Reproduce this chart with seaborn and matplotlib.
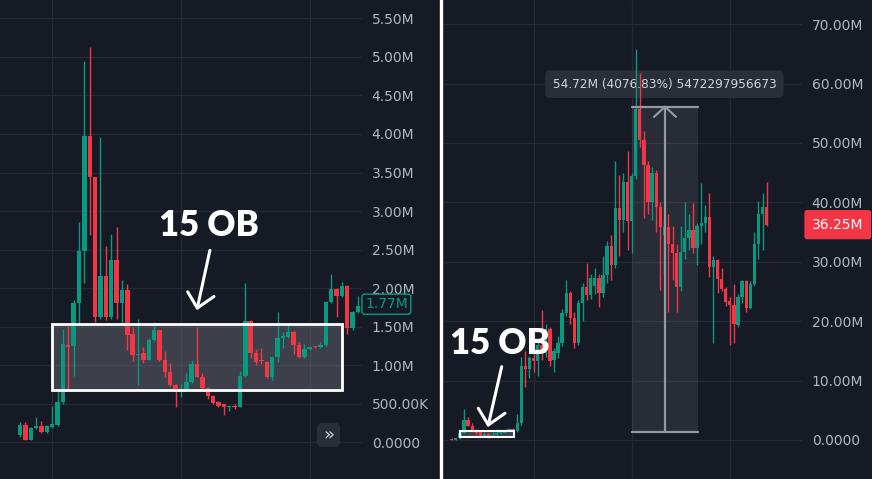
import numpy as np
import pandas as pd
import seaborn as sns
import matplotlib.pyplot as plt
from matplotlib.patches import Rectangle, FancyBboxPatch
from matplotlib.lines import Line2D

# Left panel: zoomed-in candles (values in millions)
left_open = [0.09, 0.22, 0.03, 0.18, 0.21, 0.13, 0.19, 0.22, 0.52, 1.26,
             1.25, 1.80, 2.48, 3.97, 3.44, 1.62, 2.16, 1.62, 2.37, 1.80,
             1.97, 1.40, 1.13, 1.16, 1.07, 1.32, 1.45, 1.06, 0.91, 0.74,
             0.65, 0.69, 0.78, 1.01, 0.85, 0.70, 0.60, 0.52, 0.49, 0.45,
             0.47, 0.46, 0.86, 1.57, 1.16, 1.06, 1.04, 0.84, 1.10, 1.35,
             1.36, 1.43, 1.26, 1.10, 1.21, 1.24, 1.23, 1.26, 1.82, 1.99,
             1.89, 2.03, 1.48, 1.69]
left_close = [0.22, 0.03, 0.18, 0.21, 0.13, 0.21, 0.23, 0.52, 1.27, 1.24,
              1.80, 2.48, 3.97, 3.44, 1.62, 2.16, 1.62, 2.37, 1.80, 1.97,
              1.39, 1.13, 1.14, 1.07, 1.32, 1.45, 1.06, 0.91, 0.74, 0.65,
              0.69, 0.78, 1.01, 0.85, 0.70, 0.60, 0.51, 0.47, 0.45, 0.46,
              0.46, 0.86, 1.57, 1.16, 1.04, 1.05, 0.84, 1.10, 1.35, 1.38,
              1.43, 1.26, 1.10, 1.21, 1.24, 1.23, 1.26, 1.82, 1.99, 1.89,
              2.03, 1.48, 1.69, 1.77]
left_high = [0.26, 0.26, 0.19, 0.32, 0.27, 0.22, 0.47, 0.67, 1.47, 1.55,
             1.84, 2.86, 4.95, 5.13, 3.44, 3.96, 2.54, 2.70, 2.79, 2.11,
             2.05, 1.50, 1.60, 1.24, 1.35, 1.56, 1.46, 1.18, 1.02, 0.75,
             0.75, 0.89, 1.06, 1.50, 0.90, 0.71, 0.61, 0.53, 0.50, 0.47,
             0.49, 0.92, 2.06, 1.58, 1.21, 1.22, 1.05, 1.11, 1.69, 1.43,
             1.53, 1.44, 1.30, 1.27, 1.25, 1.25, 1.30, 1.83, 2.18, 2.00,
             2.08, 2.04, 1.70, 1.89]
left_low = [0.07, 0.02, 0.02, 0.17, 0.12, 0.12, 0.18, 0.21, 0.50, 0.66,
            0.86, 1.55, 2.06, 2.69, 1.56, 1.60, 1.58, 1.60, 1.60, 1.55,
            1.19, 1.05, 0.74, 1.03, 1.06, 1.31, 1.05, 0.85, 0.73, 0.45,
            0.59, 0.68, 0.77, 0.84, 0.69, 0.56, 0.50, 0.46, 0.35, 0.40,
            0.43, 0.45, 0.85, 1.09, 1.00, 1.01, 0.83, 0.80, 1.04, 1.22,
            1.35, 1.14, 1.09, 1.09, 1.20, 1.22, 1.22, 1.25, 1.81, 1.63,
            1.88, 1.40, 1.46, 1.68]
left_ticks = [0, 0.5, 1.0, 1.5, 2.0, 2.5, 3.0, 3.5, 4.0, 4.5, 5.0, 5.5]
left_tick_labels = ["0.0000", "500.00K", "1.00M", "1.50M", "2.00M", "2.50M",
                    "3.00M", "3.50M", "4.00M", "4.50M", "5.00M", "5.50M"]

# Right panel: full history (values in millions)
right_open = [0.20, 0.05, 0.25, 1.20, 3.40, 2.40, 1.40, 1.30, 0.70, 1.00,
              0.60, 0.90, 1.10, 1.20, 1.40, 1.85, 1.50, 2.80, 12.40, 11.90,
              13.80, 13.30, 16.00, 14.60, 18.70, 13.50, 14.60, 16.30, 21.40, 24.70,
              20.50, 16.30, 23.00, 25.80, 24.40, 26.00, 27.30, 24.70, 27.80, 32.70,
              29.50, 39.00, 37.00, 43.50, 36.80, 44.40, 55.70, 50.50, 46.30, 40.10,
              45.00, 39.20, 34.50, 35.90, 33.00, 31.50, 25.80, 31.70, 34.00, 35.40,
              32.40, 36.10, 36.60, 37.50, 29.20, 30.30, 27.10, 25.40, 23.40, 22.80,
              19.40, 24.10, 26.80, 22.20, 26.30, 33.00, 38.00, 39.20]
right_close = [0.05, 0.25, 1.20, 3.40, 2.40, 1.40, 1.10, 0.70, 1.00, 0.60,
               0.90, 1.20, 1.30, 1.50, 1.85, 1.50, 2.80, 12.40, 11.90, 13.80,
               13.30, 16.00, 14.60, 18.70, 13.30, 14.90, 16.30, 21.40, 24.70, 20.50,
               16.30, 23.00, 25.80, 24.40, 27.20, 27.30, 24.70, 27.80, 32.70, 29.50,
               39.00, 37.00, 43.50, 36.80, 44.40, 55.70, 50.50, 46.30, 40.10, 45.00,
               39.20, 35.90, 35.90, 33.00, 31.50, 25.80, 31.70, 34.00, 35.40, 32.40,
               36.10, 36.60, 37.50, 29.20, 30.30, 27.10, 25.40, 23.30, 22.80, 19.60,
               24.10, 26.80, 22.20, 26.30, 33.00, 38.00, 39.20, 36.25]
right_high = [0.30, 0.30, 1.40, 5.20, 3.90, 2.90, 1.80, 1.50, 1.40, 1.10,
              1.30, 1.90, 1.50, 1.80, 2.00, 2.10, 4.40, 14.00, 15.00, 14.20,
              16.50, 16.50, 21.90, 19.50, 19.00, 15.50, 17.50, 22.00, 26.90, 25.00,
              21.50, 23.50, 26.50, 29.80, 28.00, 29.00, 28.00, 31.00, 33.50, 34.50,
              46.90, 44.60, 45.00, 48.70, 45.00, 65.80, 61.70, 52.00, 47.00, 46.00,
              45.50, 40.00, 37.00, 38.00, 36.00, 33.00, 36.00, 40.00, 38.00, 39.90,
              36.50, 43.30, 39.50, 41.50, 31.00, 30.50, 29.00, 25.80, 24.00, 26.30,
              24.50, 27.00, 27.00, 26.80, 35.00, 40.20, 41.50, 43.40]
right_low = [0.02, 0.03, 0.20, 1.10, 2.30, 1.30, 0.90, 0.60, 0.60, 0.40,
             0.50, 0.80, 1.00, 1.10, 1.30, 1.40, 1.40, 2.60, 9.00, 10.40,
             11.50, 10.70, 13.50, 14.00, 12.50, 11.50, 13.80, 15.80, 20.80, 19.50,
             15.50, 16.00, 20.00, 23.50, 23.80, 24.50, 22.40, 24.00, 26.50, 27.00,
             29.00, 31.00, 35.00, 32.00, 31.50, 44.00, 49.40, 37.30, 38.00, 37.00,
             35.00, 25.30, 28.00, 21.60, 27.00, 21.60, 25.00, 30.50, 32.00, 31.50,
             29.50, 33.00, 35.00, 27.40, 16.30, 24.80, 25.00, 22.50, 16.00, 16.30,
             19.00, 23.00, 21.50, 22.00, 26.00, 30.50, 32.00, 36.00]
right_ticks = [0, 10, 20, 30, 40, 50, 60, 70]
right_tick_labels = ["0.0000", "10.00M", "20.00M", "30.00M", "40.00M",
                     "50.00M", "60.00M", "70.00M"]

measure_text = "54.72M (4076.83%) 5472297956673"

bg = '#161a25'
up = '#089981'
down = '#f23645'
grid_col = '#252934'
label_col = '#b2b5be'
tool_grey = '#9598a1'

sns.set_theme(style="dark", rc={"axes.facecolor": bg, "figure.facecolor": bg})
plt.rcParams['font.family'] = ['DejaVu Sans']

left = pd.DataFrame({"open": left_open, "high": left_high, "low": left_low, "close": left_close})
right = pd.DataFrame({"open": right_open, "high": right_high, "low": right_low, "close": right_close})

fig = plt.figure(figsize=(8.72, 4.79), dpi=100)
ax_l = fig.add_axes([0, 0, 362 / 872, 1])
ax_r = fig.add_axes([443 / 872, 0, 359 / 872, 1])


def draw_candles(ax, df, width, min_body):
    colors = np.where(df["close"] >= df["open"], up, down)
    ax.vlines(df.index, df["low"], df["high"], colors=colors, lw=1, zorder=3)
    body = (df["close"] - df["open"]).abs().clip(lower=min_body)
    bottom = df[["open", "close"]].min(axis=1)
    ax.bar(df.index, body, bottom=bottom, width=width, color=colors, linewidth=0, zorder=3)


def style_axis(ax, ticks, labels, xgrid, xlim, ylim):
    ax.set_xlim(xlim)
    ax.set_ylim(ylim)
    ax.set_yticks(ticks)
    ax.set_yticklabels(labels)
    ax.yaxis.tick_right()
    ax.set_xticks(xgrid)
    ax.set_xticklabels([])
    ax.tick_params(axis='both', length=0)
    ax.tick_params(axis='y', pad=7, labelsize=10, labelcolor=label_col)
    ax.grid(True, color=grid_col, lw=1)
    ax.set_axisbelow(True)
    for s in ax.spines.values():
        s.set_visible(False)


# --- left panel ---
draw_candles(ax_l, left, 0.82, 0.013)
style_axis(ax_l, left_ticks, left_tick_labels, [6, 30, 54], (-3.73, 63.75), (-0.48, 5.74))

# order block box
ax_l.add_patch(Rectangle((5.9, 0.67), 54.17, 0.86, fc='#787b86', alpha=0.4, lw=0, zorder=1))
ax_l.add_patch(Rectangle((5.9, 0.67), 54.17, 0.86, fill=False, ec='white', lw=2, zorder=4))
ax_l.text(35.2, 2.81, "15 OB", fontsize=25, fontweight='heavy', family=['Lato', 'DejaVu Sans'],
          color='white', ha='center', va='center', zorder=6)
ax_l.plot([35.4, 33.05], [2.49, 1.74], color='white', lw=2.2, solid_capstyle='round', zorder=6)
ax_l.plot([31.26, 33.05, 36.16], [1.95, 1.74, 1.89], color='white', lw=2.2,
          solid_capstyle='round', solid_joinstyle='round', zorder=6)

ax_l.annotate("1.77M", xy=(1, 1.79), xycoords=('axes fraction', 'data'), xytext=(3, 0),
              textcoords='offset pixels', ha='left', va='center', fontsize=10, color=up,
              bbox=dict(boxstyle='round,pad=0.22,rounding_size=0.2', fc=bg, ec=up, lw=1),
              annotation_clip=False)

# scroll button
ax_l.add_patch(FancyBboxPatch((0.8757, 0.0668), 0.0635, 0.0501, boxstyle='round,pad=0,rounding_size=0.012',
                              transform=ax_l.transAxes, fc='#2a2e39', ec='none', zorder=5))
ax_l.text(0.9075, 0.0919, "»", transform=ax_l.transAxes, ha='center', va='center',
          fontsize=13, color='#d1d4dc', zorder=6)

# --- right panel ---
# measure tool background
ax_r.add_patch(Rectangle((44.0, 1.4), 16.15, 54.7, fc=tool_grey, alpha=0.15, lw=0, zorder=1))
ax_r.plot([44.0, 60.15], [56.1, 56.1], color=tool_grey, lw=1.6, zorder=4)
ax_r.plot([44.0, 60.15], [1.4, 1.4], color=tool_grey, lw=1.6, zorder=4)
ax_r.plot([52.15, 52.15], [1.4, 56.1], color=tool_grey, lw=1.6, zorder=4)
ax_r.plot([49.46, 52.15, 54.84], [54.4, 56.1, 54.4], color=tool_grey, lw=1.6, zorder=4)
ax_r.text(52.0, 59.9, measure_text, ha='center', va='center', fontsize=8.7, color='#d1d4dc',
          bbox=dict(boxstyle='round,pad=0.6,rounding_size=0.4', fc='#2a2e39', ec='none'), zorder=2)

draw_candles(ax_r, right, 0.8, 0.17)
style_axis(ax_r, right_ticks, right_tick_labels, [20, 44, 68], (-2.13, 85.65), (-6.57, 74.07))

ax_r.add_patch(Rectangle((2.03, 0.56), 13.2, 1.01, fc='#787b86', alpha=0.4, lw=0, zorder=1))
ax_r.add_patch(Rectangle((2.03, 0.56), 13.2, 1.01, fill=False, ec='white', lw=1.5, zorder=4))
ax_r.text(11.8, 16.3, "15 OB", fontsize=25, fontweight='heavy', family=['Lato', 'DejaVu Sans'],
          color='white', ha='center', va='center', zorder=6)
ax_r.plot([12.22, 8.95], [12.34, 2.53], color='white', lw=2.2, solid_capstyle='round', zorder=6)
ax_r.plot([6.5, 8.95, 13.03], [5.34, 2.53, 4.49], color='white', lw=2.2,
          solid_capstyle='round', solid_joinstyle='round', zorder=6)

ax_r.annotate("36.25M", xy=(1, 36.25), xycoords=('axes fraction', 'data'), xytext=(10, 0),
              textcoords='offset pixels', ha='left', va='center', fontsize=10, color='white',
              bbox=dict(boxstyle='round,pad=0.55,rounding_size=0.2', fc=down, ec='none'),
              annotation_clip=False)

# divider between the two screenshots
fig.add_artist(Line2D([441 / 872, 441 / 872], [0, 1], color='white', lw=2.4, transform=fig.transFigure))

fig.savefig("out.png", dpi=100, facecolor=bg)
